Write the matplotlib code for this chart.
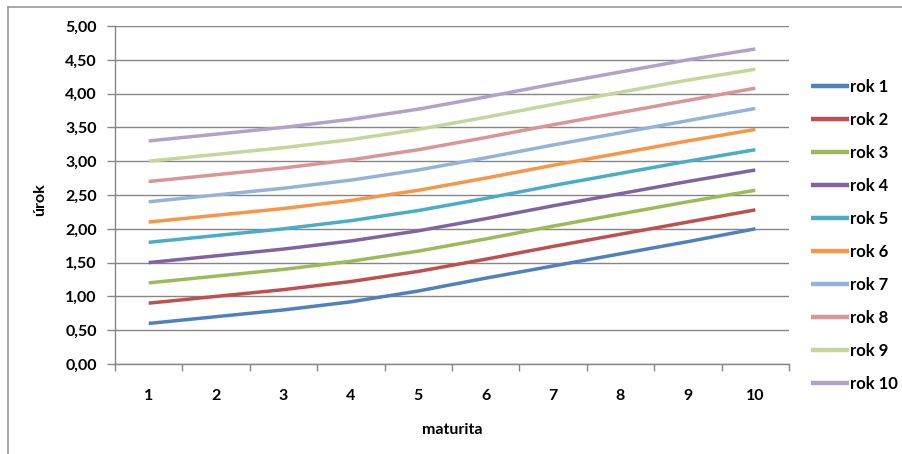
import matplotlib
matplotlib.use("Agg")
import matplotlib.pyplot as plt
from matplotlib.lines import Line2D
from matplotlib.ticker import FuncFormatter, FixedLocator

maturita = [1, 2, 3, 4, 5, 6, 7, 8, 9, 10]
series_names = ["rok 1", "rok 2", "rok 3", "rok 4", "rok 5",
                "rok 6", "rok 7", "rok 8", "rok 9", "rok 10"]
rok1 = [0.60, 0.70, 0.80, 0.92, 1.08, 1.27, 1.45, 1.63, 1.81, 2.00]
rok2 = [0.90, 1.00, 1.10, 1.22, 1.37, 1.55, 1.74, 1.92, 2.10, 2.28]
rok3 = [1.20, 1.30, 1.40, 1.52, 1.67, 1.85, 2.04, 2.22, 2.40, 2.57]
rok4 = [1.50, 1.60, 1.70, 1.82, 1.97, 2.15, 2.34, 2.52, 2.70, 2.87]
rok5 = [1.80, 1.90, 2.00, 2.12, 2.27, 2.45, 2.64, 2.82, 3.00, 3.17]
rok6 = [2.10, 2.20, 2.30, 2.42, 2.57, 2.75, 2.94, 3.12, 3.30, 3.47]
rok7 = [2.40, 2.50, 2.60, 2.72, 2.87, 3.05, 3.24, 3.42, 3.60, 3.78]
rok8 = [2.70, 2.80, 2.90, 3.02, 3.17, 3.35, 3.54, 3.72, 3.90, 4.08]
rok9 = [3.00, 3.10, 3.20, 3.32, 3.47, 3.65, 3.84, 4.02, 4.20, 4.36]
rok10 = [3.30, 3.40, 3.50, 3.62, 3.77, 3.95, 4.14, 4.32, 4.50, 4.66]
all_series = [rok1, rok2, rok3, rok4, rok5, rok6, rok7, rok8, rok9, rok10]
colors = ["#4F81BD", "#C0504D", "#9BBB59", "#8064A2", "#4BACC6",
          "#F79646", "#95B3D7", "#D99694", "#C3D69B", "#B3A2C7"]
y_ticks = [0.0, 0.5, 1.0, 1.5, 2.0, 2.5, 3.0, 3.5, 4.0, 4.5, 5.0]

plt.rcParams['font.family'] = ['Lato', 'DejaVu Sans']
plt.rcParams['font.weight'] = 'bold'

W, H = 902, 454
FS = 11.5
fig = plt.figure(figsize=(W / 100, H / 100), dpi=100)
fig.patch.set_facecolor("white")

# outer chart frame (top and left visible)
fig.add_artist(Line2D([8 / W, 8 / W], [0, 1 - 7 / H], color="#9A9A9A", lw=1.2,
                      transform=fig.transFigure))
fig.add_artist(Line2D([8 / W, 1], [1 - 7 / H, 1 - 7 / H], color="#9A9A9A", lw=1.2,
                      transform=fig.transFigure))

ax = fig.add_axes([115 / W, 1 - 364 / H, (789 - 115) / W, (364 - 26) / H])

for name, vals, c in zip(series_names, all_series, colors):
    ax.plot(maturita, vals, color=c, lw=2.5, label=name, solid_capstyle="butt")

ax.set_xlim(0.5, 10.5)
ax.set_ylim(0, 5)
ax.set_yticks(y_ticks)
ax.yaxis.set_major_formatter(FuncFormatter(lambda v, p: f"{v:.2f}".replace(".", ",")))
ax.set_xticks(maturita)
ax.xaxis.set_minor_locator(FixedLocator([m + 0.5 for m in [0] + maturita]))
ax.tick_params(axis="x", which="major", length=0, pad=18, labelsize=FS)
ax.tick_params(axis="x", which="minor", length=5, width=1, color="#868686", direction="out")
ax.tick_params(axis="y", length=6, width=1, color="#868686", pad=7, labelsize=FS)
for lab in ax.get_xticklabels() + ax.get_yticklabels():
    lab.set_fontweight("bold")

ax.grid(axis="y", color="#868686", lw=1)
ax.set_axisbelow(True)
for s in ["top", "right"]:
    ax.spines[s].set_visible(False)
for s in ["left", "bottom"]:
    ax.spines[s].set_color("#868686")
    ax.spines[s].set_linewidth(1)

fig.text(40 / W, 1 - 200 / H, "úrok", rotation=90, ha="center", va="center",
         fontsize=FS, fontweight="bold")
fig.text(452 / W, 1 - 430 / H, "maturita", ha="center", va="center",
         fontsize=FS, fontweight="bold")

leg = ax.legend(loc="upper left", bbox_to_anchor=(811 / W, 1 - 79 / H),
                bbox_transform=fig.transFigure, frameon=False, fontsize=12,
                handlelength=2.3, handletextpad=0.05, labelspacing=1.02,
                borderaxespad=0, borderpad=0)
for t in leg.get_texts():
    t.set_fontweight("bold")
for l in leg.get_lines():
    l.set_linewidth(3.2)

fig.savefig("out.png", dpi=100, facecolor="white")
